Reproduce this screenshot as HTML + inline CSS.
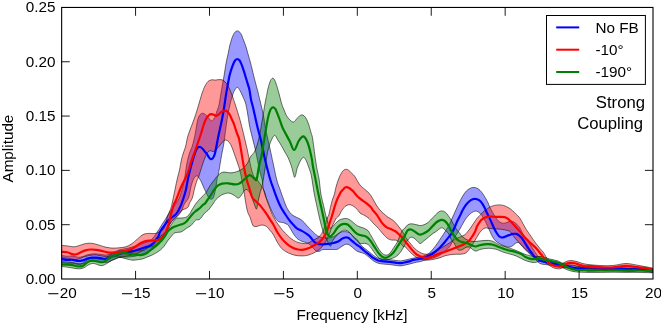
<!DOCTYPE html>
<html><head><meta charset="utf-8"><title>Spectrum</title>
<style>html,body{margin:0;padding:0;background:#fff}svg{display:block}</style>
</head><body>
<svg width="661" height="323" viewBox="0 0 661 323">
<rect width="661" height="323" fill="#fff"/>
<clipPath id="c"><rect x="61.65" y="7.45" width="591.35" height="271.55"/></clipPath>
<g clip-path="url(#c)">
<path d="M61.5 255.4C62.5 255.5 65.4 256.1 67.3 256.2C69.2 256.3 70.9 255.8 72.7 256.0C74.5 256.2 76.4 257.1 78.1 257.2C79.8 257.3 81.2 257.0 82.7 256.6C84.2 256.2 85.7 255.2 87.2 254.8C88.7 254.4 90.3 254.1 91.8 253.9C93.3 253.8 94.8 253.8 96.3 253.9C97.8 254.0 99.3 254.1 100.8 254.3C102.3 254.5 104.0 255.1 105.4 255.1C106.8 255.1 107.8 254.7 109.0 254.3C110.2 253.9 111.4 253.0 112.6 252.5C113.8 252.0 115.1 251.6 116.3 251.2C117.5 250.8 118.0 250.3 120.0 249.8C122.0 249.3 125.9 248.7 128.6 248.0C131.3 247.3 133.4 246.6 136.0 245.8C138.6 245.0 141.8 243.8 144.0 243.0C146.2 242.2 148.0 241.6 149.5 240.8C151.0 240.0 151.7 239.5 153.0 238.0C154.3 236.5 155.8 234.2 157.3 232.0C158.8 229.8 160.5 226.9 161.8 224.8C163.2 222.7 164.4 221.0 165.4 219.3C166.4 217.6 167.0 216.5 168.1 214.8C169.2 213.1 170.7 210.9 172.0 209.0C173.3 207.1 174.7 205.7 176.0 203.5C177.3 201.3 178.7 199.6 180.0 196.0C181.3 192.4 182.9 187.3 184.0 182.0C185.1 176.7 185.9 168.8 186.8 164.0C187.7 159.2 188.6 156.0 189.5 153.0C190.4 150.0 191.4 149.0 192.3 146.0C193.2 143.0 194.0 139.6 195.0 135.0C196.0 130.4 196.9 122.1 198.1 118.5C199.2 114.9 200.6 114.0 201.9 113.4C203.2 112.8 204.3 113.7 205.7 114.8C207.1 115.9 209.4 119.0 210.4 120.0C211.4 121.0 211.1 121.3 211.8 120.9C212.5 120.5 213.6 119.5 214.5 117.7C215.4 116.0 216.4 112.5 217.2 110.4C217.9 108.3 218.4 107.7 219.0 105.0C219.6 102.3 220.2 97.7 220.8 94.1C221.5 90.5 222.2 86.3 222.7 83.3C223.2 80.3 223.4 79.4 224.0 76.0C224.6 72.6 225.4 66.8 226.1 63.1C226.7 59.4 227.4 56.9 228.1 54.0C228.7 51.1 229.1 48.3 229.7 45.9C230.3 43.5 230.8 41.6 231.5 39.5C232.2 37.4 233.2 34.6 234.2 33.2C235.2 31.8 236.3 30.9 237.4 30.9C238.5 30.9 239.6 31.8 240.6 33.2C241.6 34.6 242.4 37.2 243.3 39.5C244.2 41.8 245.2 44.4 246.0 46.8C246.8 49.2 247.2 51.3 248.0 54.0C248.8 56.7 249.9 60.4 250.6 63.1C251.3 65.8 251.6 67.0 252.3 70.0C253.0 73.0 254.1 77.4 255.0 80.9C255.9 84.4 256.9 88.0 257.7 90.9C258.4 93.8 258.8 95.6 259.5 98.5C260.2 101.4 261.0 104.7 261.8 108.1C262.6 111.5 263.5 115.7 264.1 119.0C264.6 122.3 264.7 124.3 265.4 128.0C266.1 131.7 266.9 134.8 268.3 141.0C269.7 147.2 272.1 158.5 273.5 165.0C274.9 171.5 275.7 176.0 276.8 180.0C277.8 184.0 278.8 185.9 279.9 189.1C281.0 192.3 282.4 196.3 283.4 199.0C284.4 201.7 285.0 203.6 285.8 205.4C286.6 207.2 287.1 208.5 288.1 210.0C289.1 211.5 290.3 213.3 291.7 214.5C293.1 215.7 294.8 216.4 296.3 217.2C297.8 218.0 299.5 218.6 300.8 219.5C302.1 220.4 303.5 221.8 304.4 222.7C305.3 223.6 305.4 224.0 306.3 225.0C307.2 226.0 308.8 227.7 310.0 228.9C311.2 230.2 312.4 231.4 313.6 232.5C314.8 233.6 315.9 234.9 317.3 235.7C318.7 236.5 320.2 237.1 322.0 237.5C323.8 237.9 326.1 238.2 328.0 238.0C329.9 237.8 332.1 237.2 333.6 236.6C335.1 236.0 336.0 235.1 337.2 234.3C338.4 233.6 339.7 232.6 340.9 232.1C342.1 231.6 343.3 231.6 344.5 231.6C345.7 231.6 347.1 231.7 348.1 232.1C349.2 232.5 349.7 233.0 350.8 233.9C351.9 234.8 353.3 236.4 354.5 237.5C355.7 238.6 357.2 239.6 358.1 240.7C359.0 241.8 358.9 242.9 360.0 244.2C361.1 245.5 363.0 247.0 364.5 248.3C366.0 249.6 367.6 250.7 369.1 251.9C370.6 253.1 372.1 254.4 373.6 255.5C375.1 256.6 376.4 257.6 378.1 258.2C379.8 258.8 381.6 258.9 383.6 259.2C385.6 259.4 387.8 259.5 389.9 259.7C392.0 259.9 394.5 260.3 396.3 260.5C398.1 260.7 399.3 261.0 400.8 260.9C402.3 260.8 403.7 260.4 405.4 260.0C407.1 259.6 408.8 259.1 410.8 258.7C412.9 258.2 415.6 257.8 417.7 257.3C419.8 256.9 421.4 256.5 423.1 256.0C424.8 255.5 426.5 254.9 427.7 254.2C428.9 253.5 429.3 253.1 430.4 252.0C431.4 250.9 432.8 249.4 434.0 247.9C435.2 246.4 436.5 244.7 437.7 242.9C438.9 241.2 440.2 239.1 441.3 237.4C442.4 235.8 443.2 234.8 444.3 233.0C445.4 231.2 447.0 228.8 448.1 226.8C449.2 224.9 449.9 223.3 450.8 221.3C451.7 219.3 452.8 216.7 453.6 215.0C454.4 213.3 454.5 213.0 455.4 211.0C456.3 209.0 457.9 205.4 459.1 202.9C460.3 200.4 461.5 198.1 462.7 196.1C463.9 194.1 465.1 192.4 466.3 191.1C467.5 189.8 468.7 189.0 470.0 188.4C471.3 187.8 472.6 187.3 474.0 187.4C475.4 187.5 476.8 188.0 478.1 188.8C479.4 189.6 480.6 190.9 481.8 192.4C483.0 193.9 484.3 196.2 485.4 197.9C486.4 199.7 487.4 201.3 488.1 202.9C488.9 204.5 489.1 205.9 489.9 207.5C490.7 209.1 491.8 210.9 492.7 212.5C493.6 214.1 494.5 215.7 495.4 217.1C496.3 218.5 497.1 219.7 498.1 220.7C499.2 221.7 500.5 222.6 501.7 223.0C502.9 223.4 504.2 223.2 505.4 223.0C506.6 222.8 507.9 221.9 509.0 221.6C510.1 221.3 510.6 221.0 511.7 221.2C512.8 221.4 514.3 222.2 515.4 223.0C516.5 223.8 517.4 224.9 518.1 225.7C518.9 226.5 519.1 226.7 519.9 228.0C520.7 229.3 521.6 231.6 522.7 233.4C523.8 235.2 525.1 237.1 526.3 238.9C527.5 240.7 528.7 242.5 529.9 244.3C531.1 246.1 532.4 248.0 533.6 249.8C534.8 251.6 536.1 253.9 537.2 255.2C538.3 256.5 537.9 256.5 540.0 257.4C542.1 258.3 546.7 259.6 549.7 260.5C552.7 261.4 555.2 261.8 558.0 262.5C560.8 263.2 563.1 263.8 566.6 264.5C570.1 265.2 575.4 266.3 579.3 266.5C583.2 266.7 585.8 265.4 590.0 265.5C594.2 265.6 600.1 266.9 604.7 267.2C609.3 267.5 613.3 267.1 617.5 267.2C621.7 267.3 625.8 268.0 630.0 268.0C634.2 268.0 639.3 267.0 643.0 267.2C646.7 267.4 650.8 268.7 652.4 269.0L652.6 272.6C651.0 272.3 646.8 270.9 643.0 270.7C639.2 270.5 634.2 271.5 630.0 271.5C625.8 271.5 621.7 270.8 617.5 270.7C613.3 270.6 609.3 271.0 604.7 270.7C600.1 270.4 594.2 269.1 590.0 269.0C585.8 268.9 583.2 270.4 579.3 270.2C575.4 270.0 570.1 268.7 566.6 268.0C563.1 267.3 560.8 266.5 558.0 266.0C555.2 265.5 552.7 265.4 549.7 265.0C546.7 264.6 542.5 264.6 540.0 263.5C537.5 262.4 535.9 259.6 534.5 258.3C533.1 257.0 532.8 256.7 531.7 255.7C530.6 254.7 529.3 253.6 528.1 252.5C526.9 251.4 525.7 250.2 524.5 248.9C523.3 247.6 522.0 245.9 520.9 244.8C519.8 243.7 519.0 242.7 518.1 242.5C517.2 242.3 516.3 242.9 515.4 243.4C514.5 243.9 513.6 245.1 512.7 245.7C511.8 246.3 511.1 246.9 510.0 247.1C508.9 247.2 507.5 246.9 506.3 246.6C505.1 246.3 503.9 245.7 502.7 245.2C501.5 244.7 500.3 244.2 499.1 243.4C497.9 242.7 496.5 241.8 495.4 240.7C494.3 239.6 493.6 238.6 492.7 237.1C491.8 235.6 491.1 233.9 490.0 231.6C488.9 229.3 487.7 226.1 486.3 223.4C484.9 220.7 482.9 217.0 481.8 215.3C480.7 213.6 480.3 213.7 479.5 213.0C478.7 212.3 477.8 211.4 476.8 211.2C475.8 211.0 474.9 211.0 473.6 211.6C472.3 212.2 470.6 213.3 469.1 214.8C467.6 216.3 466.0 218.3 464.5 220.7C463.0 223.0 461.3 226.6 460.0 228.9C458.7 231.2 457.6 232.6 456.5 234.5C455.4 236.4 454.1 238.3 453.1 240.2C452.1 242.0 451.3 244.2 450.4 245.6C449.5 247.0 449.2 247.4 447.7 248.8C446.2 250.2 443.3 252.8 441.3 254.2C439.3 255.6 437.7 256.2 435.9 257.0C434.1 257.8 432.2 258.3 430.4 258.8C428.6 259.3 426.7 259.7 425.0 260.2C423.3 260.7 421.4 261.2 420.0 261.6C418.6 262.0 417.8 262.0 416.3 262.3C414.8 262.6 412.6 263.2 410.8 263.7C409.0 264.1 407.1 264.6 405.4 265.0C403.7 265.4 402.3 265.8 400.8 265.9C399.3 266.0 398.1 265.7 396.3 265.5C394.5 265.3 392.0 264.8 389.9 264.6C387.8 264.4 385.6 264.3 383.6 264.1C381.6 263.9 379.8 263.7 378.1 263.2C376.4 262.7 375.1 262.0 373.6 261.0C372.1 260.0 370.6 258.5 369.1 257.3C367.6 256.1 366.0 254.5 364.5 253.7C363.0 252.9 361.4 252.8 360.0 252.3C358.6 251.8 357.5 251.5 356.3 250.7C355.1 249.9 353.8 248.5 352.6 247.5C351.4 246.5 350.2 245.3 349.0 244.8C347.8 244.3 346.8 244.0 345.4 244.4C344.0 244.8 342.2 246.3 340.8 247.1C339.4 247.9 339.0 248.9 337.2 249.3C335.4 249.7 332.3 249.4 329.9 249.5C327.5 249.6 324.4 249.3 322.7 249.6C321.0 249.9 320.6 251.1 319.5 251.3C318.4 251.5 317.3 251.4 316.3 251.0C315.3 250.6 314.7 249.7 313.6 248.6C312.5 247.5 311.1 245.5 309.9 244.5C308.7 243.5 307.6 243.2 306.3 242.7C305.0 242.2 303.3 242.0 301.8 241.3C300.3 240.6 298.6 239.8 297.2 238.6C295.8 237.4 294.7 235.6 293.6 234.1C292.6 232.6 291.8 231.0 290.9 229.5C290.0 228.0 288.9 225.9 288.1 225.0C287.3 224.1 287.1 224.4 286.3 224.0C285.6 223.6 284.8 223.1 283.6 222.7C282.4 222.3 280.4 222.6 279.0 221.8C277.6 221.0 276.8 220.2 275.4 218.1C274.0 216.0 272.3 212.1 270.9 209.1C269.5 206.1 268.1 202.1 267.2 200.0C266.3 197.9 266.1 198.4 265.4 196.3C264.7 194.2 263.6 190.0 263.1 187.3C262.6 184.6 262.8 182.9 262.2 180.0C261.6 177.1 260.6 175.0 259.5 170.0C258.4 165.0 257.0 157.0 255.4 150.0C253.8 143.0 251.2 133.5 250.0 128.0C248.8 122.5 248.9 121.0 248.2 117.1C247.5 113.2 246.8 107.9 245.9 104.4C245.0 100.9 243.6 98.3 242.6 96.0C241.6 93.7 240.8 92.0 239.9 90.5C239.0 89.0 238.1 87.3 237.2 87.3C236.3 87.3 235.3 89.2 234.5 90.5C233.7 91.8 233.4 92.7 232.7 95.1C231.9 97.5 230.8 100.8 229.9 105.0C229.0 109.2 228.0 113.7 227.0 120.0C226.0 126.3 224.8 137.1 223.9 143.0C223.0 148.9 222.5 150.2 221.6 155.2C220.7 160.2 219.3 169.2 218.6 173.0C217.9 176.8 217.7 175.7 217.2 178.2C216.7 180.7 216.4 185.0 215.8 188.1C215.2 191.2 214.3 195.1 213.6 197.0C212.8 198.9 212.1 199.2 211.3 199.3C210.5 199.4 209.5 198.6 208.6 197.3C207.7 196.1 206.6 193.3 205.8 191.8C205.0 190.3 204.8 189.8 204.0 188.1C203.2 186.4 202.2 183.6 201.3 181.8C200.4 180.0 199.2 178.3 198.6 177.3C198.0 176.3 198.0 176.2 197.6 176.0C197.2 175.8 196.9 175.5 196.3 175.9C195.7 176.3 194.8 176.6 194.0 178.2C193.2 179.8 192.2 182.2 191.3 185.4C190.4 188.6 189.8 194.4 188.6 197.5C187.4 200.6 185.3 202.2 184.3 204.0C183.3 205.8 183.3 207.1 182.7 208.4C182.1 209.8 181.8 210.7 180.9 212.1C180.0 213.5 178.4 215.3 177.2 216.6C176.0 217.9 174.8 218.6 173.6 219.8C172.4 221.0 171.3 222.1 170.0 224.0C168.7 225.9 167.3 228.8 166.0 231.0C164.7 233.2 163.3 235.4 162.0 237.5C160.7 239.6 159.2 241.8 158.0 243.5C156.8 245.2 155.8 246.8 154.5 248.0C153.2 249.2 151.8 250.1 150.0 251.0C148.2 251.9 146.3 252.7 144.0 253.5C141.7 254.3 138.6 255.4 136.0 256.0C133.4 256.6 131.3 256.8 128.6 257.0C125.9 257.2 122.0 256.9 120.0 257.2C118.0 257.5 117.5 258.2 116.3 258.6C115.1 259.1 113.8 259.4 112.6 259.9C111.4 260.4 110.2 261.3 109.0 261.7C107.8 262.1 106.8 262.5 105.4 262.5C104.0 262.5 102.3 261.9 100.8 261.7C99.3 261.5 97.8 261.4 96.3 261.3C94.8 261.2 93.3 261.2 91.8 261.3C90.3 261.4 88.7 261.8 87.2 262.2C85.7 262.6 84.2 263.6 82.7 264.0C81.2 264.4 79.8 264.7 78.1 264.6C76.4 264.5 74.5 263.6 72.7 263.4C70.9 263.2 69.2 263.7 67.3 263.6C65.4 263.5 62.5 262.9 61.5 262.8Z" fill="#0000ff" fill-opacity="0.4" stroke="#000" stroke-opacity="0.55" stroke-width="1" stroke-linejoin="round"/>
<path d="M61.5 245.4C62.5 245.5 65.3 245.7 67.3 245.9C69.3 246.1 71.8 246.8 73.6 246.8C75.4 246.8 76.4 246.4 78.1 245.9C79.8 245.4 81.8 244.6 83.6 244.1C85.4 243.6 87.2 243.2 89.0 243.2C90.8 243.1 92.7 243.4 94.5 243.8C96.3 244.2 98.1 244.9 99.9 245.4C101.7 245.9 103.6 246.7 105.4 247.1C107.2 247.5 109.0 247.8 110.8 248.0C112.6 248.2 114.8 248.1 116.3 248.0C117.8 247.9 118.4 247.9 120.0 247.7C121.6 247.5 124.0 247.4 125.9 246.8C127.8 246.2 129.6 245.2 131.3 244.1C133.0 243.0 134.4 241.7 135.9 240.4C137.4 239.1 139.1 237.5 140.4 236.4C141.8 235.3 142.6 234.6 144.0 234.1C145.4 233.6 147.1 233.5 148.6 233.4C150.1 233.3 151.8 233.6 153.1 233.6C154.4 233.6 155.6 233.5 156.7 233.2C157.8 232.8 158.7 232.2 159.8 231.5C160.9 230.8 162.5 230.6 163.5 229.0C164.5 227.4 165.2 224.4 166.0 222.0C166.8 219.6 167.4 216.9 168.1 214.8C168.8 212.7 169.7 211.4 170.4 209.4C171.1 207.4 171.1 207.8 172.2 203.0C173.3 198.2 175.6 186.4 176.8 180.9C178.0 175.4 178.8 173.3 179.5 170.0C180.2 166.7 180.7 163.5 181.2 161.0C181.7 158.5 181.9 157.5 182.7 155.0C183.4 152.5 184.8 149.3 185.7 146.0C186.6 142.7 186.7 139.7 188.2 135.0C189.7 130.3 192.8 123.0 194.5 118.0C196.2 113.0 197.4 109.0 198.6 105.0C199.8 101.0 200.7 97.3 201.8 94.1C202.9 90.9 203.9 88.1 205.0 86.0C206.1 83.9 207.0 82.4 208.1 81.4C209.2 80.4 210.6 80.0 211.8 79.8C213.0 79.6 214.2 80.1 215.4 80.1C216.6 80.1 217.8 79.6 219.0 79.6C220.2 79.6 221.5 79.5 222.7 80.1C223.9 80.7 225.2 82.0 226.3 83.3C227.4 84.6 228.2 86.1 229.0 87.8C229.8 89.5 230.5 91.2 231.3 93.2C232.1 95.2 232.9 97.6 233.6 99.6C234.3 101.6 234.3 101.4 235.4 105.0C236.5 108.6 238.5 114.2 240.3 121.0C242.1 127.8 244.3 136.9 246.3 145.5C248.3 154.1 250.6 167.1 252.4 172.8C254.2 178.6 255.7 177.7 257.3 180.0C258.9 182.3 260.5 184.2 261.8 186.4C263.1 188.6 264.2 190.7 265.0 193.0C265.8 195.3 266.0 197.4 266.8 200.0C267.6 202.6 269.0 205.9 270.0 208.5C271.0 211.1 271.5 213.0 272.7 215.4C273.9 217.8 276.2 221.5 277.2 223.1C278.2 224.7 277.7 223.8 278.6 225.0C279.5 226.2 281.1 228.6 282.7 230.4C284.3 232.2 286.3 234.2 288.1 235.9C289.9 237.6 291.8 239.3 293.6 240.4C295.4 241.5 297.2 242.2 299.0 242.7C300.8 243.2 303.0 243.5 304.5 243.6C306.0 243.7 306.8 243.6 308.1 243.1C309.4 242.6 310.8 241.4 312.5 240.5C314.2 239.6 316.6 238.7 318.2 237.5C319.8 236.3 320.8 235.1 321.8 233.4C322.9 231.7 323.6 229.7 324.5 227.1C325.4 224.5 326.5 220.0 327.2 218.0C327.9 216.0 328.3 216.6 328.8 214.9C329.3 213.2 329.8 210.0 330.4 207.6C331.0 205.2 331.5 202.7 332.2 200.4C332.9 198.1 334.0 195.8 334.5 194.0C335.0 192.2 334.9 191.3 335.4 189.5C335.8 187.7 336.5 185.2 337.2 183.1C337.9 181.0 338.7 178.7 339.5 176.8C340.3 174.9 341.4 173.1 342.2 171.9C343.0 170.7 343.6 170.2 344.3 169.8C345.0 169.4 345.6 169.3 346.3 169.3C347.0 169.3 347.6 169.6 348.3 170.0C349.0 170.4 349.6 171.2 350.4 171.9C351.2 172.7 352.3 173.7 353.1 174.5C353.9 175.3 353.9 175.1 355.0 176.8C356.1 178.6 358.4 182.9 360.0 185.0C361.6 187.1 363.0 187.7 364.5 189.1C366.0 190.5 367.7 191.6 369.1 193.2C370.5 194.8 371.5 196.6 372.7 198.6C373.9 200.6 375.1 203.1 376.3 205.0C377.5 206.9 378.8 208.6 380.0 210.0C381.2 211.4 382.2 212.4 383.6 213.6C385.0 214.8 386.6 216.2 388.1 217.3C389.6 218.4 391.3 218.9 392.7 220.0C394.1 221.1 395.1 222.2 396.3 223.6C397.5 224.9 398.8 226.7 399.9 228.1C401.0 229.5 401.8 230.5 402.6 231.8C403.5 233.1 404.1 234.6 404.9 236.0C405.7 237.4 406.6 238.8 407.7 240.2C408.8 241.6 410.2 243.3 411.4 244.7C412.6 246.1 413.8 247.7 415.0 248.8C416.2 249.9 417.2 250.7 418.6 251.5C420.0 252.3 421.6 253.4 423.1 253.8C424.6 254.2 426.2 254.4 427.7 254.2C429.2 254.0 429.4 253.9 432.0 252.7C434.6 251.5 439.3 249.1 443.2 246.8C447.1 244.6 451.8 241.2 455.3 239.2C458.8 237.2 462.2 236.3 464.3 235.0C466.4 233.7 466.8 232.8 468.0 231.3C469.2 229.8 470.6 227.9 471.8 226.1C473.0 224.3 474.3 222.2 475.4 220.7C476.4 219.2 477.2 218.1 478.1 217.1C479.0 216.1 479.8 215.5 480.9 214.4C482.0 213.3 483.4 211.6 484.5 210.7C485.6 209.8 486.3 209.5 487.2 208.9C488.1 208.3 488.7 207.6 489.9 207.0C491.1 206.4 493.0 205.8 494.5 205.4C496.0 205.1 497.5 204.9 499.0 204.9C500.5 204.9 502.1 205.1 503.5 205.4C504.9 205.8 506.3 206.6 507.2 207.0C508.1 207.4 508.1 207.4 509.0 208.0C509.9 208.6 511.4 209.6 512.6 210.7C513.8 211.8 515.1 213.1 516.3 214.4C517.5 215.7 518.5 216.1 520.0 218.4C521.5 220.7 523.9 225.5 525.4 228.0C526.9 230.5 527.8 231.6 529.0 233.4C530.2 235.2 531.5 237.2 532.7 238.9C533.9 240.7 535.1 242.3 536.3 243.9C537.5 245.5 538.7 247.0 539.9 248.4C541.1 249.8 542.5 251.2 543.5 252.5C544.5 253.8 544.9 255.2 545.8 256.5C546.6 257.8 547.5 259.4 548.6 260.4C549.7 261.4 551.0 262.1 552.2 262.7C553.4 263.3 554.7 263.7 555.9 264.0C557.1 264.3 558.3 264.4 559.5 264.3C560.7 264.2 561.9 263.6 563.1 263.1C564.3 262.6 565.5 261.7 566.7 261.3C567.9 260.9 569.2 260.7 570.4 260.6C571.6 260.5 572.8 260.7 574.0 260.9C575.2 261.1 576.4 261.4 577.6 261.8C578.8 262.2 580.1 262.7 581.3 263.1C582.5 263.5 583.9 263.8 585.0 264.0C586.1 264.2 585.5 264.2 588.0 264.5C590.5 264.8 595.8 265.3 600.0 265.5C604.2 265.7 608.7 265.8 613.0 265.5C617.3 265.2 621.7 263.5 626.0 263.5C630.3 263.5 634.6 264.8 639.0 265.5C643.4 266.2 650.2 267.6 652.4 268.0L652.4 271.0C650.2 270.8 643.4 269.9 639.0 269.5C634.6 269.1 630.3 268.5 626.0 268.5C621.7 268.5 617.3 269.3 613.0 269.5C608.7 269.7 604.2 269.6 600.0 269.5C595.8 269.4 590.5 269.2 588.0 269.0C585.5 268.8 586.1 268.7 585.0 268.5C583.9 268.3 582.5 268.0 581.3 267.6C580.1 267.2 578.8 266.7 577.6 266.3C576.4 265.9 575.2 265.6 574.0 265.4C572.8 265.2 571.6 265.0 570.4 265.1C569.2 265.2 567.9 265.4 566.7 265.8C565.5 266.2 564.3 267.1 563.1 267.6C561.9 268.1 560.7 268.7 559.5 268.8C558.3 268.9 557.1 268.8 555.9 268.5C554.7 268.2 553.4 267.8 552.2 267.2C551.0 266.6 549.8 265.7 548.6 264.9C547.4 264.1 546.2 263.3 545.0 262.6C543.8 261.9 542.8 261.3 541.5 260.6C540.2 259.9 538.8 259.4 537.3 258.5C535.8 257.6 534.2 256.3 532.7 255.2C531.2 254.0 529.5 252.8 528.1 251.6C526.7 250.4 525.7 249.2 524.5 248.0C523.3 246.8 522.1 245.5 520.9 244.3C519.7 243.1 518.4 242.0 517.2 240.7C516.0 239.3 514.8 237.7 513.6 236.2C512.4 234.7 511.1 232.6 510.0 231.6C508.9 230.6 508.6 230.8 507.2 230.4C505.8 230.0 503.5 229.6 501.7 229.3C499.9 229.1 497.9 229.0 496.3 228.9C494.7 228.8 493.4 228.7 492.0 228.6C490.6 228.5 489.2 228.3 488.1 228.2C487.0 228.1 486.3 227.8 485.4 228.0C484.5 228.2 483.7 228.5 482.7 229.3C481.7 230.1 480.5 231.6 479.5 232.9C478.5 234.2 477.7 235.9 476.8 237.4C475.9 238.9 474.9 240.5 474.0 242.0C473.1 243.5 472.2 245.2 471.3 246.5C470.4 247.8 469.5 249.0 468.6 250.1C467.7 251.2 467.1 252.2 465.9 252.9C464.7 253.6 463.0 254.0 461.3 254.2C459.6 254.4 457.7 254.1 455.9 254.2C454.1 254.3 452.2 254.4 450.4 254.7C448.6 255.0 446.8 255.3 445.0 255.8C443.2 256.3 441.3 257.3 439.5 257.9C437.7 258.5 435.8 258.8 434.0 259.2C432.2 259.6 430.4 260.0 428.6 260.1C426.8 260.2 424.6 259.9 423.1 259.7C421.6 259.5 420.7 259.2 419.5 258.8C418.3 258.4 417.1 257.8 415.9 257.0C414.7 256.2 413.5 255.3 412.3 254.2C411.1 253.1 409.8 251.8 408.6 250.5C407.4 249.2 405.8 247.1 405.0 246.5C404.2 245.9 404.3 247.4 403.6 246.9C402.9 246.4 401.7 244.6 400.8 243.7C399.9 242.8 399.0 242.0 398.1 241.4C397.2 240.8 396.4 240.3 395.4 240.1C394.3 239.9 393.0 240.3 391.8 240.1C390.6 239.9 389.2 239.3 388.1 238.7C387.0 238.1 386.3 237.4 385.4 236.5C384.5 235.6 383.9 234.9 382.7 233.5C381.5 232.1 379.6 229.8 378.1 228.1C376.6 226.4 375.1 225.2 373.6 223.6C372.1 222.0 370.6 220.0 369.1 218.6C367.6 217.2 366.0 216.3 364.5 215.4C363.0 214.5 361.2 214.0 360.0 213.0C358.8 212.0 358.4 210.6 357.3 209.5C356.2 208.4 354.8 207.1 353.6 206.3C352.4 205.5 350.9 204.9 350.0 204.7C349.1 204.5 348.7 204.8 348.0 205.0C347.3 205.2 346.7 205.4 346.0 205.8C345.3 206.2 344.8 206.7 344.0 207.6C343.2 208.5 342.1 209.8 341.3 211.2C340.5 212.6 339.8 214.7 339.0 215.8C338.2 216.9 337.1 216.9 336.3 218.0C335.5 219.1 334.8 221.0 334.0 222.5C333.2 224.0 332.4 225.6 331.8 227.1C331.2 228.6 330.9 230.1 330.4 231.6C329.9 233.1 329.3 234.6 328.6 236.1C327.9 237.6 327.5 238.8 326.3 240.7C325.1 242.5 323.5 245.3 321.7 247.2C319.9 249.1 318.2 250.5 315.7 251.9C313.2 253.3 309.6 254.9 306.6 255.5C303.6 256.1 300.1 255.9 297.5 255.7C294.9 255.4 292.8 254.7 290.9 254.0C289.0 253.3 287.8 252.7 286.3 251.8C284.8 250.9 283.3 250.2 281.8 248.6C280.3 247.0 278.7 244.5 277.3 242.2C275.9 239.9 274.8 237.0 273.6 235.0C272.4 233.0 271.2 231.8 270.0 230.4C268.8 229.0 267.7 227.2 266.3 226.3C264.9 225.4 263.3 225.0 261.8 225.0C260.3 225.0 258.4 226.1 257.3 226.3C256.2 226.6 255.8 226.7 255.0 226.5C254.2 226.3 253.5 226.6 252.7 225.0C251.9 223.4 250.9 219.7 250.0 217.2C249.1 214.7 248.2 214.6 247.1 209.9C246.0 205.2 244.7 195.6 243.5 189.0C242.3 182.4 241.2 175.7 239.8 170.3C238.4 164.9 236.8 161.0 235.3 156.7C233.8 152.4 232.2 147.4 230.7 144.6C229.2 141.8 227.5 140.4 226.1 140.0C224.7 139.6 223.7 141.2 222.4 142.3C221.2 143.4 220.0 145.3 218.6 146.8C217.2 148.3 215.5 150.8 214.0 151.4C212.5 152.1 211.1 150.2 209.8 150.7C208.5 151.2 207.6 152.2 206.4 154.5C205.2 156.8 203.5 161.7 202.6 164.3C201.7 166.9 201.5 167.9 200.8 170.0C200.1 172.1 199.3 175.0 198.6 176.8C197.9 178.6 197.5 179.0 196.8 180.9C196.2 182.8 195.4 185.2 194.7 188.1C193.9 190.9 193.2 195.5 192.3 198.0C191.4 200.5 190.1 201.6 189.5 203.0C188.9 204.4 189.1 205.3 188.6 206.2C188.1 207.1 187.3 207.8 186.3 208.4C185.3 209.0 183.6 209.3 182.7 209.8C181.8 210.3 181.8 210.2 180.9 211.2C180.0 212.2 178.3 214.5 177.2 215.7C176.1 216.9 175.5 217.3 174.5 218.4C173.5 219.5 172.1 220.3 171.0 222.0C169.9 223.7 169.0 226.2 168.0 228.5C167.0 230.8 166.8 233.2 165.0 236.0C163.2 238.8 160.1 243.0 157.0 245.0C153.9 247.0 150.0 246.5 146.5 248.0C143.0 249.5 140.2 252.5 136.0 254.0C131.8 255.5 123.7 256.6 121.0 257.0C118.3 257.4 121.4 256.2 120.0 256.2C118.6 256.2 114.7 256.9 112.6 257.0C110.5 257.1 109.0 257.1 107.2 256.9C105.4 256.7 103.5 256.3 101.7 256.0C99.9 255.7 98.1 255.1 96.3 255.0C94.5 254.9 93.0 255.0 90.9 255.3C88.8 255.6 85.7 256.3 83.6 257.0C81.5 257.7 79.8 258.8 78.1 259.3C76.4 259.8 75.4 260.2 73.6 260.0C71.8 259.8 69.3 258.7 67.3 258.3C65.3 257.9 62.5 257.7 61.5 257.6Z" fill="#ff0000" fill-opacity="0.4" stroke="#000" stroke-opacity="0.55" stroke-width="1" stroke-linejoin="round"/>
<path d="M61.5 261.7C62.5 261.8 65.4 262.0 67.3 262.1C69.2 262.2 70.9 262.3 72.7 262.6C74.5 262.9 76.4 263.6 78.1 263.7C79.8 263.8 81.3 263.8 82.7 263.3C84.1 262.8 85.1 261.3 86.3 260.5C87.5 259.7 88.7 258.8 89.9 258.4C91.1 258.0 92.2 258.0 93.6 258.1C95.0 258.2 96.6 258.8 98.1 259.0C99.6 259.2 101.2 259.8 102.6 259.6C104.0 259.4 105.1 258.6 106.3 257.8C107.5 257.1 108.7 255.8 109.9 255.1C111.1 254.3 112.3 253.8 113.5 253.3C114.7 252.8 116.1 252.3 117.2 251.9C118.3 251.5 118.1 251.2 120.0 251.0C121.9 250.8 125.9 250.7 128.6 250.6C131.2 250.5 133.6 250.6 135.9 250.6C138.2 250.6 140.5 251.0 142.2 250.8C143.9 250.6 144.7 250.1 145.9 249.3C147.1 248.6 148.3 247.3 149.5 246.3C150.7 245.3 151.9 244.3 153.1 243.3C154.3 242.3 155.5 241.5 156.7 240.3C157.9 239.1 159.2 237.4 160.4 236.3C161.6 235.2 162.7 234.7 164.0 233.5C165.3 232.3 167.1 230.5 168.1 229.3C169.1 228.2 169.2 227.7 170.0 226.6C170.8 225.5 171.6 223.9 172.7 222.5C173.8 221.1 174.9 219.2 176.3 218.4C177.7 217.7 179.4 218.2 180.9 218.0C182.4 217.8 184.1 218.0 185.4 217.5C186.8 217.0 187.9 216.0 189.0 214.8C190.1 213.6 190.8 211.8 191.7 210.3C192.6 208.8 193.7 206.9 194.5 205.7C195.3 204.5 195.2 204.3 196.3 203.0C197.4 201.7 199.5 199.3 201.0 197.7C202.5 196.1 204.0 195.2 205.5 193.2C207.0 191.2 208.6 187.9 210.1 185.6C211.6 183.3 213.3 181.2 214.6 179.6C215.9 178.0 216.3 177.0 217.7 175.8C219.1 174.6 220.4 172.7 222.8 172.2C225.2 171.7 229.0 173.2 232.0 172.8C235.0 172.4 238.5 171.3 241.0 169.8C243.5 168.3 245.4 166.0 247.1 163.7C248.8 161.4 249.7 158.0 250.9 156.1C252.1 154.2 253.1 154.2 254.1 152.5C255.1 150.8 256.0 148.7 256.8 146.1C257.7 143.5 258.5 140.0 259.2 137.0C259.9 134.0 260.5 130.4 260.9 128.0C261.3 125.6 261.4 124.7 261.8 122.6C262.2 120.5 262.7 118.0 263.1 115.3C263.6 112.6 264.0 109.0 264.5 106.3C265.0 103.6 265.5 101.0 265.9 99.0C266.3 97.0 266.4 96.3 266.8 94.5C267.2 92.7 267.6 90.2 268.1 88.1C268.6 86.0 269.5 83.3 270.0 81.8C270.5 80.3 270.9 79.8 271.3 79.2C271.8 78.6 272.2 78.2 272.7 78.2C273.2 78.2 273.7 78.6 274.1 79.2C274.6 79.8 274.9 80.5 275.4 81.8C275.9 83.1 276.6 85.2 277.2 87.2C277.8 89.2 278.5 91.6 279.0 93.6C279.5 95.6 279.9 97.0 280.4 99.0C280.9 101.0 281.6 103.6 282.2 105.4C282.8 107.2 283.4 108.3 284.1 110.0C284.8 111.7 285.4 113.7 286.4 115.4C287.3 117.1 288.8 118.9 290.0 120.0C291.2 121.1 292.4 122.3 293.6 122.0C294.8 121.7 296.1 119.3 297.2 118.2C298.3 117.1 299.5 115.9 300.4 115.4C301.3 114.9 301.9 114.7 302.7 115.0C303.5 115.3 304.6 116.2 305.4 117.3C306.2 118.4 307.0 120.1 307.7 121.8C308.4 123.5 308.9 125.2 309.5 127.2C310.1 129.2 310.8 131.6 311.3 133.6C311.8 135.6 311.9 133.8 312.7 139.0C313.5 144.2 315.2 158.4 316.3 165.0C317.4 171.6 318.2 173.8 319.0 178.6C319.8 183.4 320.1 189.5 320.9 194.0C321.7 198.5 322.7 201.9 323.6 205.8C324.5 209.7 325.8 215.6 326.3 217.6C326.8 219.6 326.5 217.0 326.8 218.0C327.1 219.0 327.5 221.7 328.1 223.4C328.7 225.1 329.6 227.8 330.4 228.3C331.2 228.8 331.7 227.6 332.7 226.6C333.7 225.6 335.1 223.6 336.3 222.5C337.5 221.4 338.5 220.5 339.9 219.8C341.3 219.1 343.1 218.7 344.5 218.5C345.9 218.3 346.9 218.5 348.1 218.9C349.3 219.3 350.5 220.3 351.7 221.2C352.9 222.1 354.2 223.5 355.4 224.4C356.6 225.3 357.6 226.0 359.0 226.6C360.4 227.2 362.0 227.3 363.5 228.0C365.0 228.7 367.0 229.7 368.1 230.7C369.2 231.7 369.4 233.0 370.0 234.0C370.6 235.0 370.9 235.3 371.8 236.9C372.7 238.5 374.2 241.2 375.4 243.3C376.6 245.4 377.9 247.9 379.1 249.6C380.3 251.3 381.5 252.8 382.7 253.7C383.9 254.6 385.1 255.2 386.3 255.1C387.5 255.0 388.7 254.4 389.9 253.2C391.1 252.0 392.4 249.6 393.6 247.8C394.8 246.0 396.1 244.5 397.2 242.4C398.3 240.3 399.1 237.6 400.0 235.5C400.9 233.4 401.8 231.2 402.6 230.0C403.5 228.8 404.2 228.9 405.0 228.0C405.8 227.1 406.6 225.5 407.7 224.8C408.8 224.1 410.0 223.8 411.4 223.8C412.8 223.8 414.4 224.3 415.9 224.6C417.4 224.9 418.9 225.6 420.4 225.6C421.9 225.6 423.6 224.9 425.0 224.3C426.4 223.7 427.4 223.0 428.6 222.0C429.8 221.0 431.2 219.3 432.2 218.3C433.2 217.3 433.4 217.0 434.5 215.9C435.6 214.8 437.7 212.6 439.0 211.8C440.3 211.0 441.1 210.8 442.2 210.9C443.3 211.0 444.4 211.6 445.4 212.3C446.4 213.1 447.2 214.2 448.1 215.4C449.0 216.6 449.9 218.0 450.8 219.5C451.7 221.0 452.5 222.7 453.6 224.5C454.7 226.3 456.2 229.0 457.2 230.4C458.2 231.8 458.6 231.8 459.4 232.8C460.2 233.8 461.1 235.4 462.2 236.5C463.3 237.6 464.6 238.4 465.9 239.2C467.2 239.9 468.6 240.6 470.0 241.0C471.4 241.4 472.6 241.5 474.0 241.5C475.4 241.5 477.1 241.2 478.6 241.1C480.1 240.9 481.4 240.7 483.1 240.6C484.8 240.5 487.1 240.3 488.6 240.4C490.1 240.5 491.0 240.7 492.2 241.1C493.4 241.5 494.6 242.2 495.8 242.9C497.0 243.6 497.9 244.3 499.5 245.0C501.1 245.7 502.6 245.9 505.4 246.8C508.1 247.7 512.7 249.1 516.0 250.4C519.3 251.7 522.1 253.4 525.1 254.4C528.1 255.4 531.5 256.1 534.2 256.5C536.9 256.9 538.6 256.1 541.2 256.5C543.8 256.9 546.9 258.2 549.7 259.0C552.5 259.8 555.3 259.9 558.1 261.0C560.9 262.1 563.8 264.2 566.6 265.4C569.4 266.6 571.6 267.4 575.1 268.0C578.6 268.6 583.6 268.8 587.8 268.8C592.0 268.9 596.3 268.4 600.5 268.3C604.7 268.2 609.0 268.0 613.2 268.0C617.4 268.0 621.7 268.2 625.9 268.3C630.1 268.4 634.2 268.2 638.6 268.3C643.0 268.4 650.1 268.7 652.4 268.8L652.4 272.8C650.1 272.7 643.0 272.5 638.6 272.4C634.2 272.3 630.1 272.4 625.9 272.4C621.7 272.4 617.4 272.2 613.2 272.2C609.0 272.2 604.7 272.4 600.5 272.4C596.3 272.4 592.0 272.5 587.8 272.4C583.6 272.3 578.6 272.3 575.1 271.8C571.6 271.3 569.4 270.6 566.6 269.5C563.8 268.4 560.9 266.6 558.1 265.5C555.3 264.4 552.5 263.8 549.7 263.0C546.9 262.2 543.8 261.1 541.2 261.0C538.6 260.9 536.9 262.6 534.2 262.5C531.5 262.4 528.1 261.5 525.1 260.4C522.1 259.3 519.3 257.2 516.0 255.9C512.7 254.6 508.0 253.6 505.4 252.8C502.8 252.0 501.7 251.6 500.4 251.1C499.1 250.6 498.7 250.1 497.6 249.7C496.5 249.3 495.5 249.0 494.0 248.8C492.5 248.6 490.4 248.3 488.6 248.3C486.8 248.3 484.6 248.6 483.1 248.8C481.6 249.0 480.7 249.3 479.5 249.7C478.3 250.1 477.1 251.2 475.9 251.1C474.7 251.0 473.3 249.9 472.2 249.2C471.1 248.5 470.6 247.3 469.5 247.0C468.4 246.7 467.1 247.0 465.9 247.4C464.7 247.8 463.4 249.2 462.2 249.7C461.0 250.1 459.5 250.3 458.6 250.1C457.7 249.9 457.6 249.5 456.8 248.3C456.1 247.1 455.0 244.4 454.1 243.0C453.2 241.6 452.2 241.4 451.3 239.8C450.4 238.2 449.4 235.0 448.5 233.5C447.6 232.0 446.7 231.7 445.8 230.8C444.9 229.9 444.0 228.6 443.1 228.2C442.2 227.8 441.4 227.7 440.4 228.2C439.3 228.7 438.0 230.1 436.8 231.0C435.6 231.9 434.5 232.4 433.1 233.4C431.7 234.4 430.1 235.8 428.6 237.0C427.1 238.2 425.5 239.6 424.1 240.7C422.7 241.8 421.3 243.3 420.4 243.6C419.5 243.9 419.5 243.2 418.6 242.4C417.7 241.6 416.1 239.7 414.9 238.8C413.7 237.9 412.5 237.0 411.3 237.2C410.1 237.4 408.8 238.8 407.7 240.1C406.6 241.3 406.0 242.9 404.9 244.7C403.8 246.5 402.4 249.3 401.3 251.0C400.2 252.7 399.1 253.9 398.0 255.0C396.9 256.1 396.0 256.6 394.6 257.3C393.2 258.0 391.3 258.7 389.9 259.1C388.5 259.6 387.5 259.9 386.3 260.0C385.1 260.1 383.9 260.1 382.7 259.8C381.5 259.5 380.3 259.1 379.1 258.2C377.9 257.2 376.6 255.7 375.4 254.1C374.2 252.5 373.0 250.3 371.8 248.7C370.6 247.1 369.4 245.5 368.2 244.6C367.0 243.7 365.9 243.5 364.5 243.3C363.1 243.2 361.1 244.0 360.0 243.7C358.9 243.4 359.0 242.5 358.1 241.6C357.2 240.7 355.7 239.7 354.5 238.4C353.3 237.1 352.0 235.2 350.8 233.9C349.6 232.6 348.4 231.3 347.2 230.7C346.0 230.1 344.8 230.0 343.6 230.3C342.4 230.6 341.1 231.5 339.9 232.5C338.7 233.5 337.5 234.7 336.3 236.1C335.1 237.5 333.7 239.0 332.7 240.7C331.7 242.4 331.2 246.5 330.2 246.3C329.2 246.2 327.8 241.8 326.8 239.8C325.8 237.8 324.9 236.4 324.1 234.3C323.3 232.2 322.6 229.8 321.8 227.1C321.0 224.4 320.3 221.2 319.5 218.0C318.7 214.8 318.1 211.6 317.2 207.6C316.4 203.6 315.3 199.4 314.3 194.0C313.3 188.6 312.2 179.7 311.3 175.4C310.4 171.1 309.8 170.5 309.0 168.1C308.2 165.7 307.2 162.7 306.3 160.9C305.4 159.1 304.5 157.5 303.6 157.3C302.7 157.2 302.0 158.2 300.9 160.0C299.8 161.8 298.0 165.8 297.2 168.2C296.4 170.6 296.2 173.0 295.8 174.5C295.4 176.0 295.0 177.3 294.6 177.3C294.2 177.3 294.1 176.3 293.6 174.5C293.1 172.7 292.4 169.3 291.5 166.5C290.6 163.7 289.2 160.1 288.1 157.7C287.0 155.3 286.0 154.0 284.9 152.0C283.8 150.0 282.5 147.5 281.3 145.5C280.1 143.5 278.9 141.4 277.7 139.8C276.5 138.2 275.6 134.2 274.0 135.7C272.4 137.2 269.8 143.4 268.4 148.6C266.9 153.8 266.3 160.7 265.3 166.8C264.3 172.9 263.2 180.6 262.3 185.0C261.4 189.4 260.7 190.3 260.0 193.2C259.3 196.1 258.5 199.7 257.9 202.3C257.3 205.0 257.1 209.2 256.4 209.1C255.7 209.0 254.6 204.7 253.5 202.0C252.4 199.3 251.2 195.1 250.0 193.0C248.8 190.9 247.6 189.7 246.5 189.5C245.4 189.3 244.4 190.7 243.5 191.7C242.6 192.7 242.1 194.4 241.2 195.5C240.3 196.6 239.3 198.1 238.2 198.1C237.1 198.1 235.8 196.3 234.4 195.5C233.0 194.7 231.3 193.5 229.8 193.2C228.3 192.9 226.8 193.1 225.3 193.5C223.8 193.9 222.2 194.5 220.7 195.5C219.2 196.5 217.4 197.9 216.1 199.3C214.8 200.7 214.1 202.4 213.1 203.8C212.1 205.2 210.8 206.9 210.0 208.0C209.2 209.1 209.0 209.4 208.1 210.3C207.2 211.2 205.5 212.3 204.4 213.4C203.3 214.5 202.6 216.0 201.7 217.1C200.8 218.2 199.9 219.4 199.0 219.8C198.1 220.2 197.2 219.4 196.3 219.8C195.4 220.2 194.5 221.5 193.6 222.5C192.7 223.5 192.0 224.7 190.8 225.7C189.6 226.7 188.0 227.3 186.3 228.4C184.7 229.5 182.8 231.3 180.9 232.0C179.0 232.7 176.6 232.0 175.0 232.7C173.4 233.4 172.5 235.0 171.3 236.4C170.1 237.8 168.8 239.2 167.6 240.9C166.4 242.6 165.2 244.8 164.0 246.3C162.8 247.8 161.8 248.9 160.4 250.0C159.0 251.1 157.3 252.2 155.8 253.1C154.3 254.0 152.8 254.7 151.3 255.4C149.8 256.1 148.3 256.6 146.8 257.2C145.3 257.8 143.9 258.5 142.5 258.9C141.1 259.3 140.2 259.4 138.6 259.6C137.0 259.8 134.8 260.2 133.0 260.2C131.2 260.1 130.2 259.8 128.0 259.3C125.8 258.8 122.3 257.4 120.0 257.4C117.7 257.4 116.1 258.6 114.4 259.3C112.7 260.0 111.2 260.8 109.9 261.5C108.6 262.2 107.5 263.1 106.3 263.8C105.1 264.5 103.8 265.4 102.6 265.6C101.4 265.8 100.3 265.5 99.0 265.2C97.7 264.9 95.8 263.8 94.5 263.6C93.2 263.4 92.1 263.5 90.9 263.8C89.7 264.1 88.4 264.9 87.2 265.6C86.0 266.3 85.1 267.4 83.6 267.9C82.1 268.4 80.5 268.9 78.1 268.8C75.7 268.7 71.9 267.8 69.1 267.4C66.3 267.0 62.8 266.6 61.5 266.5Z" fill="#008000" fill-opacity="0.4" stroke="#000" stroke-opacity="0.55" stroke-width="1" stroke-linejoin="round"/>
<path d="M61.5 259.2C62.5 259.3 65.4 259.9 67.3 260.0C69.2 260.1 70.9 259.6 72.7 259.8C74.5 260.0 76.4 260.9 78.1 261.0C79.8 261.1 81.2 260.8 82.7 260.4C84.2 260.0 85.7 259.1 87.2 258.6C88.7 258.2 90.3 257.9 91.8 257.7C93.3 257.5 94.8 257.6 96.3 257.7C97.8 257.8 99.3 257.9 100.8 258.1C102.3 258.3 104.0 258.9 105.4 258.9C106.8 258.9 107.8 258.5 109.0 258.1C110.2 257.7 111.4 256.8 112.6 256.3C113.8 255.8 115.1 255.4 116.3 255.0C117.5 254.6 118.7 253.9 120.0 253.6C121.3 253.3 122.6 253.2 124.0 253.0C125.4 252.8 127.1 252.5 128.6 252.2C130.1 251.9 131.4 251.8 133.1 251.3C134.8 250.9 136.8 250.1 138.6 249.5C140.4 248.9 142.2 248.3 144.0 247.7C145.8 247.1 148.0 246.6 149.5 245.9C151.0 245.2 152.0 244.6 153.1 243.6C154.2 242.6 154.9 241.3 155.8 240.0C156.7 238.7 157.9 237.2 158.6 235.9C159.3 234.6 159.2 233.6 160.0 232.0C160.8 230.4 162.3 228.4 163.6 226.6C164.9 224.8 166.3 222.6 167.7 221.1C169.1 219.6 170.5 218.6 171.8 217.5C173.1 216.4 174.4 215.9 175.4 214.8C176.4 213.8 177.3 212.4 178.1 211.2C178.8 210.0 179.3 208.9 179.9 207.5C180.5 206.1 180.8 205.9 181.8 203.0C182.8 200.1 184.6 194.9 185.8 190.2C187.0 185.5 187.2 181.4 188.8 175.0C190.4 168.6 193.6 156.3 195.5 151.6C197.4 146.9 198.3 146.8 200.1 147.0C201.9 147.2 204.3 151.1 206.1 153.1C207.9 155.1 209.3 158.9 210.7 159.2C212.1 159.4 213.3 158.4 214.6 154.6C215.9 150.8 217.0 142.5 218.3 136.4C219.6 130.3 221.3 123.2 222.3 118.0C223.3 112.8 223.9 108.7 224.5 105.0C225.1 101.3 225.3 99.3 225.8 96.0C226.3 92.7 227.1 88.3 227.7 85.1C228.3 81.8 228.8 79.0 229.3 76.5C229.9 74.0 230.3 72.4 231.0 70.3C231.7 68.2 232.6 65.7 233.3 64.0C234.0 62.3 234.6 61.1 235.3 60.3C236.0 59.5 236.7 59.0 237.4 59.0C238.1 59.0 238.8 59.5 239.4 60.2C240.0 60.9 240.3 61.6 241.0 63.1C241.7 64.6 242.6 67.2 243.3 69.4C244.1 71.6 244.8 74.2 245.5 76.5C246.2 78.8 246.8 81.0 247.5 83.2C248.2 85.4 248.8 87.0 249.4 89.6C250.0 92.2 250.3 95.9 250.9 99.0C251.5 102.1 252.4 104.9 253.2 108.1C253.9 111.3 254.7 114.8 255.4 118.1C256.1 121.4 256.8 124.3 257.7 128.0C258.6 131.7 259.7 135.1 261.0 140.5C262.3 145.9 263.7 154.1 265.3 160.7C266.9 167.3 269.0 175.3 270.4 180.0C271.8 184.7 272.5 185.9 273.6 189.1C274.7 192.3 276.0 196.0 277.2 199.0C278.4 202.0 279.5 204.7 280.9 207.3C282.3 209.9 283.9 212.2 285.4 214.5C286.9 216.8 288.5 219.2 289.9 220.9C291.3 222.7 292.4 223.7 293.6 225.0C294.8 226.3 295.8 227.6 297.2 228.6C298.6 229.6 300.3 230.1 301.8 230.9C303.3 231.7 304.9 232.7 306.3 233.6C307.7 234.5 308.8 235.3 310.0 236.6C311.2 237.8 312.4 239.9 313.6 241.1C314.8 242.3 315.8 243.4 317.3 243.9C318.8 244.4 320.9 244.3 322.7 244.3C324.5 244.3 326.3 244.1 328.1 243.9C329.9 243.7 331.9 243.4 333.6 243.0C335.3 242.6 336.7 242.3 338.1 241.6C339.5 240.9 340.6 239.6 341.8 238.9C343.0 238.2 344.3 237.7 345.4 237.5C346.4 237.3 347.2 237.4 348.1 237.8C349.0 238.2 349.7 238.9 350.8 239.8C351.9 240.7 353.3 242.0 354.5 243.0C355.7 244.0 357.2 245.0 358.1 245.7C359.0 246.3 358.9 246.0 360.0 246.9C361.1 247.8 363.0 249.7 364.5 251.0C366.0 252.3 367.6 253.4 369.1 254.6C370.6 255.8 372.1 257.2 373.6 258.2C375.1 259.2 376.4 260.0 378.1 260.5C379.8 261.0 381.6 261.2 383.6 261.4C385.6 261.6 387.8 261.7 389.9 261.9C392.0 262.1 394.5 262.6 396.3 262.8C398.1 263.0 399.3 263.3 400.8 263.2C402.3 263.1 403.7 262.7 405.4 262.3C407.1 261.9 409.6 261.4 410.8 261.0C412.0 260.6 411.2 260.4 412.3 260.1C413.4 259.8 415.9 259.6 417.7 259.2C419.5 258.8 421.3 258.5 423.1 257.9C424.9 257.3 426.9 256.6 428.6 255.8C430.3 255.0 431.6 254.3 433.1 253.3C434.6 252.3 436.3 250.9 437.7 249.7C439.1 248.5 440.1 247.4 441.3 246.1C442.5 244.8 443.7 243.4 444.9 242.0C446.1 240.6 447.4 238.8 448.5 237.4C449.6 236.0 450.5 235.1 451.5 233.5C452.5 231.9 453.6 229.7 454.5 227.7C455.4 225.7 456.1 223.6 457.2 221.3C458.2 219.0 460.0 215.8 460.8 214.1C461.6 212.4 461.5 212.4 462.2 211.0C463.0 209.6 464.3 207.2 465.4 205.6C466.5 204.0 467.9 202.6 469.1 201.5C470.3 200.4 471.6 199.6 472.7 199.2C473.8 198.8 474.8 198.8 475.9 199.0C476.9 199.2 478.0 199.4 479.0 200.1C480.0 200.8 480.9 201.7 481.8 202.9C482.7 204.1 483.6 205.8 484.5 207.5C485.4 209.2 486.3 211.5 487.2 213.4C488.1 215.3 488.8 216.6 489.9 218.9C491.0 221.2 492.5 224.9 493.6 227.2C494.7 229.5 495.5 231.0 496.4 232.5C497.3 234.0 498.2 235.4 499.1 236.2C500.0 237.0 500.8 237.4 501.8 237.5C502.9 237.6 504.2 237.0 505.4 236.6C506.6 236.2 507.9 235.5 509.1 235.1C510.3 234.7 511.5 234.1 512.7 233.9C513.9 233.7 515.2 233.7 516.3 233.9C517.3 234.1 518.1 234.6 519.0 235.3C519.9 236.0 520.9 236.9 521.8 238.0C522.7 239.1 523.6 240.7 524.5 242.1C525.4 243.5 526.3 245.2 527.2 246.6C528.1 248.0 529.0 249.4 529.9 250.7C530.8 252.0 531.9 253.2 532.7 254.3C533.5 255.4 533.5 255.9 534.9 257.0C536.3 258.1 538.7 260.1 541.2 261.0C543.7 261.9 546.9 262.2 549.7 262.7C552.5 263.2 555.3 263.6 558.1 264.2C560.9 264.8 563.1 265.6 566.6 266.3C570.1 267.0 575.4 268.3 579.3 268.4C583.2 268.5 585.7 267.0 589.9 267.1C594.1 267.2 600.1 268.5 604.7 268.8C609.3 269.1 613.2 268.7 617.5 268.8C621.8 268.9 626.0 269.6 630.2 269.6C634.4 269.6 639.9 268.7 642.9 268.8C645.9 268.9 646.4 269.6 648.0 270.0C649.6 270.4 651.8 271.2 652.6 271.4" fill="none" stroke="#0000ff" stroke-width="2.2" stroke-linejoin="round" stroke-linecap="butt"/>
<path d="M61.5 251.8C62.5 251.9 65.6 251.9 67.3 252.3C69.0 252.7 70.4 253.7 71.8 254.1C73.2 254.5 74.0 254.7 75.4 254.5C76.8 254.3 78.3 253.4 80.0 252.7C81.7 252.0 83.6 250.9 85.4 250.4C87.2 249.9 89.1 249.6 90.9 249.5C92.7 249.4 94.5 249.6 96.3 249.8C98.1 250.0 99.9 250.5 101.7 250.9C103.5 251.3 105.4 252.0 107.2 252.3C109.0 252.6 110.9 252.7 112.6 252.7C114.3 252.7 116.0 252.7 117.2 252.5C118.4 252.3 118.5 252.1 120.0 251.8C121.5 251.5 124.0 251.4 125.9 250.9C127.8 250.4 129.6 249.9 131.3 249.1C133.0 248.3 134.4 247.3 135.9 246.3C137.4 245.3 138.9 244.0 140.4 243.2C141.9 242.4 143.4 241.7 144.9 241.3C146.4 240.9 148.0 240.8 149.5 240.7C151.0 240.6 152.5 240.7 154.0 240.5C155.5 240.3 157.3 240.2 158.6 239.8C159.9 239.4 161.0 238.7 162.0 237.8C163.0 236.9 163.7 235.8 164.5 234.5C165.3 233.2 166.1 231.5 166.8 229.8C167.5 228.1 168.0 226.2 168.5 224.5C169.0 222.8 169.3 221.4 169.8 219.5C170.3 217.6 170.8 215.2 171.3 213.0C171.9 210.8 172.6 208.3 173.1 206.6C173.6 204.9 174.0 204.2 174.5 203.0C175.0 201.8 175.2 202.2 176.3 199.5C177.4 196.8 179.7 190.2 181.3 186.5C182.9 182.8 184.7 180.1 185.9 177.3C187.2 174.6 188.1 172.2 188.8 170.0C189.6 167.8 189.6 166.5 190.4 164.0C191.2 161.5 192.5 158.0 193.6 155.0C194.7 152.0 195.6 149.5 196.8 146.0C198.0 142.5 199.8 137.5 200.9 134.0C202.0 130.5 202.7 127.6 203.6 125.0C204.5 122.4 205.4 120.3 206.3 118.6C207.2 116.9 208.2 115.8 209.1 115.0C209.9 114.2 210.5 114.1 211.3 114.1C212.1 114.1 213.2 114.5 214.0 114.8C214.8 115.1 215.5 116.0 216.3 115.9C217.1 115.8 218.1 114.8 219.0 114.1C219.9 113.4 220.8 112.4 221.8 111.8C222.8 111.2 223.9 110.6 224.9 110.6C225.9 110.6 226.9 111.1 227.7 111.8C228.5 112.5 229.2 113.8 229.9 115.0C230.6 116.2 231.1 117.8 231.7 119.1C232.3 120.4 233.0 121.5 233.6 123.1C234.2 124.7 234.8 126.8 235.4 128.6C236.0 130.4 236.5 132.1 237.2 134.0C237.8 135.9 238.3 135.1 239.3 140.0C240.3 144.9 242.1 157.0 243.3 163.7C244.6 170.4 245.8 176.1 246.8 180.0C247.8 183.9 248.3 184.6 249.1 187.3C249.9 190.0 251.1 194.3 251.8 196.3C252.6 198.3 253.2 198.7 253.6 199.3C254.0 199.9 253.3 198.8 254.5 200.0C255.7 201.2 258.9 204.1 260.9 206.4C262.9 208.7 264.6 211.2 266.3 213.6C268.0 216.0 269.7 219.0 270.9 220.9C272.1 222.8 272.5 223.1 273.6 225.0C274.7 226.9 275.9 230.0 277.3 232.3C278.7 234.6 280.2 236.6 281.8 238.6C283.4 240.6 285.4 242.6 287.2 244.1C289.0 245.6 290.9 246.8 292.7 247.7C294.5 248.6 296.3 249.2 298.1 249.5C299.9 249.8 301.8 249.9 303.6 249.7C305.4 249.5 307.5 248.7 309.0 248.1C310.5 247.5 311.3 246.7 312.7 245.9C314.1 245.2 315.8 244.6 317.3 243.6C318.8 242.6 320.5 241.4 321.8 239.8C323.1 238.2 324.4 236.1 325.4 234.3C326.4 232.5 327.0 230.7 327.7 228.9C328.4 227.1 328.9 225.2 329.5 223.4C330.1 221.6 330.7 219.9 331.3 218.0C331.9 216.1 332.5 214.1 333.1 212.1C333.7 210.1 334.2 207.9 334.9 205.8C335.6 203.7 336.4 201.4 337.2 199.4C338.0 197.4 339.3 195.2 339.9 194.0C340.5 192.8 340.3 192.9 340.8 192.2C341.3 191.4 342.4 190.2 343.1 189.5C343.8 188.8 344.3 188.1 344.9 187.7C345.5 187.3 346.1 187.1 346.7 187.1C347.3 187.1 348.1 187.5 348.7 187.8C349.2 188.1 349.2 188.0 350.0 188.7C350.8 189.4 352.4 190.5 353.6 191.8C354.8 193.1 355.9 194.9 357.3 196.3C358.7 197.7 360.3 198.9 361.8 200.0C363.3 201.1 364.8 201.9 366.3 203.1C367.8 204.3 369.8 206.0 370.9 207.2C372.0 208.3 371.6 208.6 372.7 210.0C373.8 211.4 375.7 213.3 377.2 215.4C378.7 217.5 380.3 220.7 381.8 222.7C383.3 224.7 384.8 226.1 386.3 227.2C387.8 228.3 389.4 228.4 390.9 229.1C392.4 229.8 394.0 230.4 395.4 231.3C396.8 232.2 398.0 233.6 399.0 234.5C400.0 235.4 400.3 235.4 401.3 236.5C402.3 237.6 403.8 239.6 405.0 241.1C406.2 242.6 407.4 244.1 408.6 245.6C409.8 247.1 411.1 248.7 412.3 250.1C413.5 251.5 414.7 252.8 415.9 253.8C417.1 254.8 418.3 255.4 419.5 256.0C420.7 256.6 421.7 257.1 423.1 257.4C424.5 257.7 426.2 258.0 427.7 257.9C429.2 257.8 430.5 257.1 432.2 256.5C433.9 255.9 435.6 255.0 437.7 254.2C439.8 253.4 443.0 252.5 445.0 251.8C447.0 251.1 448.0 250.7 449.5 250.1C451.0 249.5 452.6 248.9 454.1 248.3C455.6 247.7 457.1 247.1 458.6 246.5C460.1 245.9 461.7 245.4 463.1 244.7C464.5 244.0 465.7 243.2 466.8 242.4C467.9 241.7 468.6 241.2 469.5 240.2C470.4 239.2 471.3 237.9 472.2 236.5C473.1 235.1 474.1 233.7 474.9 232.0C475.7 230.3 476.3 227.8 477.2 226.1C478.1 224.4 479.1 222.8 480.0 221.6C480.9 220.4 481.6 219.7 482.7 218.9C483.8 218.2 484.9 217.5 486.3 217.1C487.7 216.7 489.4 216.6 490.9 216.6C492.4 216.6 493.9 216.8 495.4 216.9C496.9 217.0 498.4 216.9 499.9 216.9C501.4 216.9 503.1 216.8 504.5 217.1C505.9 217.4 506.9 218.0 508.1 218.9C509.3 219.8 510.2 221.0 511.7 222.5C513.1 224.0 515.4 226.5 516.8 228.0C518.2 229.5 518.9 230.2 520.0 231.6C521.1 233.0 522.4 234.8 523.6 236.2C524.8 237.6 526.0 238.6 527.2 239.8C528.4 241.0 529.6 242.3 530.8 243.4C532.0 244.5 533.4 245.5 534.5 246.6C535.6 247.7 536.6 248.7 537.7 250.0C538.8 251.3 540.1 253.0 541.3 254.5C542.5 256.0 543.8 257.7 545.0 259.1C546.2 260.5 547.4 261.7 548.6 262.7C549.8 263.7 551.0 264.4 552.2 265.0C553.4 265.6 554.7 266.0 555.9 266.3C557.1 266.6 558.3 266.8 559.5 266.6C560.7 266.5 561.9 265.9 563.1 265.4C564.3 264.9 565.5 264.0 566.7 263.6C567.9 263.2 569.2 263.0 570.4 262.9C571.6 262.8 572.8 263.0 574.0 263.2C575.2 263.4 576.4 263.7 577.6 264.1C578.8 264.5 580.1 265.0 581.3 265.4C582.5 265.8 583.9 266.1 585.0 266.3C586.1 266.5 585.2 266.5 587.8 266.7C590.4 266.9 596.3 267.3 600.5 267.4C604.7 267.5 609.0 267.6 613.2 267.4C617.4 267.1 621.7 265.9 625.9 265.9C630.1 265.9 634.2 266.8 638.6 267.4C643.0 268.0 650.1 269.1 652.4 269.5" fill="none" stroke="#ff0000" stroke-width="2.2" stroke-linejoin="round" stroke-linecap="butt"/>
<path d="M61.5 264.3C62.5 264.4 65.4 264.6 67.3 264.7C69.2 264.8 70.9 264.9 72.7 265.2C74.5 265.5 76.4 266.2 78.1 266.3C79.8 266.4 81.3 266.4 82.7 265.9C84.1 265.4 85.1 263.9 86.3 263.1C87.5 262.3 88.7 261.4 89.9 261.0C91.1 260.6 92.2 260.6 93.6 260.7C95.0 260.8 96.6 261.4 98.1 261.6C99.6 261.9 101.2 262.4 102.6 262.2C104.0 262.0 105.1 261.1 106.3 260.4C107.5 259.6 108.7 258.4 109.9 257.7C111.1 256.9 112.3 256.4 113.5 255.9C114.7 255.4 116.1 254.9 117.2 254.5C118.3 254.1 118.8 253.7 120.0 253.5C121.2 253.3 122.7 253.1 124.1 253.1C125.5 253.1 127.1 253.4 128.6 253.6C130.1 253.8 131.6 254.1 133.1 254.3C134.6 254.5 136.2 254.9 137.7 255.0C139.2 255.1 140.8 255.2 142.2 255.0C143.6 254.8 144.7 254.3 145.9 253.6C147.1 252.9 148.3 251.8 149.5 250.9C150.7 250.0 151.9 249.0 153.1 248.1C154.3 247.2 155.5 246.4 156.7 245.4C157.9 244.4 159.2 243.1 160.4 241.8C161.6 240.5 162.7 239.5 164.0 237.7C165.3 235.9 166.7 232.8 168.1 231.1C169.5 229.4 171.2 228.4 172.7 227.5C174.2 226.6 175.7 226.2 177.2 225.7C178.7 225.2 180.4 224.8 181.8 224.3C183.2 223.8 184.2 223.5 185.4 222.5C186.6 221.5 187.8 219.8 189.0 218.4C190.2 217.0 191.4 215.2 192.6 213.9C193.8 212.6 195.1 211.7 196.3 210.7C197.5 209.7 198.7 209.1 199.9 208.0C201.1 206.9 202.6 205.2 203.5 204.4C204.4 203.6 204.3 204.4 205.4 203.0C206.5 201.6 208.7 198.3 210.1 196.2C211.5 194.1 212.6 192.0 213.9 190.2C215.2 188.4 216.3 186.7 217.7 185.6C219.1 184.5 220.4 184.0 222.2 183.6C224.0 183.2 226.3 183.2 228.3 183.3C230.3 183.4 232.6 184.3 234.4 184.4C236.2 184.5 237.5 184.4 238.9 183.8C240.3 183.2 241.5 182.0 242.7 181.0C243.8 180.0 244.7 179.0 245.8 178.0C246.9 177.0 248.4 175.4 249.5 175.2C250.6 175.0 251.7 176.3 252.6 177.0C253.5 177.7 254.4 178.7 255.0 179.2C255.6 179.7 256.0 180.4 256.4 180.0C256.8 179.6 257.0 178.1 257.3 176.5C257.6 174.9 257.8 173.1 258.2 170.6C258.6 168.1 259.5 163.8 260.0 161.5C260.5 159.2 260.8 159.4 261.3 157.0C261.8 154.6 262.2 151.8 263.0 147.0C263.8 142.2 265.4 132.2 266.1 128.0C266.8 123.8 266.8 123.8 267.2 121.7C267.6 119.6 268.1 117.3 268.6 115.3C269.1 113.3 269.9 111.1 270.4 109.9C270.9 108.7 271.2 108.4 271.7 108.0C272.1 107.6 272.6 107.3 273.1 107.3C273.6 107.3 274.0 107.6 274.5 108.0C275.0 108.4 275.2 108.7 275.9 109.9C276.5 111.1 277.3 113.3 278.1 115.3C278.9 117.3 279.6 119.6 280.4 121.7C281.2 123.8 281.2 124.8 282.7 128.0C284.2 131.2 287.7 137.3 289.6 141.0C291.5 144.7 292.6 150.0 294.1 150.0C295.6 150.0 297.2 143.3 298.7 141.0C300.2 138.7 301.8 136.2 303.3 136.4C304.8 136.7 306.2 138.9 307.6 142.5C309.0 146.1 310.8 153.9 311.6 157.7C312.5 161.4 312.1 161.5 312.7 165.0C313.3 168.5 314.4 173.8 315.4 178.6C316.3 183.4 317.4 189.2 318.4 194.0C319.4 198.8 320.4 203.6 321.3 207.6C322.2 211.6 322.9 214.8 323.6 218.0C324.3 221.2 324.7 224.4 325.4 227.1C326.1 229.8 326.9 232.7 327.7 234.3C328.5 235.9 329.0 236.8 330.0 236.6C331.0 236.4 332.4 234.8 333.6 233.4C334.8 232.0 336.0 229.4 337.2 228.0C338.4 226.6 339.7 225.5 340.9 224.8C342.1 224.1 343.3 223.9 344.5 223.9C345.7 223.9 346.9 224.1 348.1 224.8C349.3 225.6 350.5 227.1 351.7 228.4C352.9 229.7 354.2 231.4 355.4 232.5C356.6 233.6 357.6 234.3 359.0 234.8C360.4 235.3 362.1 235.3 363.5 235.7C364.9 236.1 366.1 236.4 367.3 237.4C368.5 238.4 369.7 239.8 370.9 241.4C372.1 243.0 373.3 245.1 374.5 246.9C375.7 248.7 376.9 250.7 378.1 252.3C379.3 253.9 380.6 255.5 381.8 256.4C383.0 257.3 384.2 257.8 385.4 257.8C386.6 257.8 387.6 257.3 389.0 256.4C390.4 255.5 392.3 253.9 393.7 252.3C395.1 250.7 396.1 248.7 397.3 246.9C398.5 245.1 399.8 243.1 400.9 241.4C402.0 239.7 403.2 238.3 404.1 236.9C405.0 235.5 405.4 234.3 406.0 233.2C406.6 232.1 407.0 231.0 407.7 230.3C408.4 229.7 409.3 229.2 410.4 229.3C411.5 229.4 412.9 230.4 414.1 231.1C415.3 231.8 416.6 233.1 417.7 233.7C418.8 234.3 419.3 234.7 420.4 234.6C421.5 234.5 422.7 233.9 424.1 233.2C425.5 232.5 427.1 231.7 428.6 230.4C430.1 229.1 431.7 227.0 433.1 225.6C434.5 224.2 435.6 222.9 436.8 222.0C438.0 221.1 439.3 220.4 440.4 220.1C441.4 219.8 442.2 219.8 443.1 220.1C444.0 220.4 444.9 221.0 445.8 221.9C446.7 222.8 447.5 224.0 448.4 225.5C449.3 227.0 450.5 229.6 451.1 230.8C451.8 232.1 451.7 232.0 452.3 233.0C452.9 234.0 453.9 235.5 455.0 236.8C456.1 238.1 457.2 239.7 458.6 240.6C460.0 241.5 461.6 241.9 463.1 242.4C464.6 242.9 466.2 242.8 467.7 243.3C469.2 243.8 470.8 245.1 472.2 245.6C473.6 246.1 474.7 246.6 475.9 246.5C477.1 246.4 478.1 245.6 479.5 245.2C480.9 244.8 482.5 244.5 484.0 244.3C485.5 244.1 487.1 244.0 488.6 244.1C490.1 244.2 491.6 244.3 493.1 244.7C494.6 245.1 496.1 245.9 497.6 246.5C499.1 247.1 501.0 247.9 502.2 248.3C503.4 248.8 504.0 248.9 505.0 249.2C506.0 249.5 506.8 249.9 508.1 250.2C509.4 250.5 511.2 250.7 512.7 251.1C514.2 251.5 515.7 252.0 517.2 252.5C518.7 253.0 520.5 253.6 521.8 254.3C523.1 255.0 523.7 256.1 525.0 256.8C526.3 257.5 528.0 258.2 529.5 258.6C531.0 259.0 532.6 259.1 534.1 259.1C535.6 259.1 537.1 258.5 538.6 258.6C540.1 258.7 541.6 259.2 543.1 259.5C544.6 259.8 546.2 260.1 547.7 260.4C549.2 260.7 550.7 261.0 552.2 261.3C553.7 261.6 555.3 261.8 556.8 262.3C558.3 262.8 559.9 263.5 561.3 264.1C562.6 264.7 563.7 265.3 564.9 265.9C566.1 266.5 567.4 267.2 568.6 267.7C569.8 268.2 571.0 268.8 572.2 269.1C573.4 269.5 574.4 269.6 575.8 269.8C577.2 270.0 578.9 270.1 580.4 270.1C581.9 270.2 583.8 270.0 585.0 270.1C586.2 270.2 585.2 270.5 587.8 270.6C590.4 270.7 596.3 270.6 600.5 270.5C604.7 270.4 609.0 270.3 613.2 270.3C617.4 270.3 621.7 270.5 625.9 270.5C630.1 270.5 634.2 270.4 638.6 270.5C643.0 270.6 650.1 270.9 652.4 271.0" fill="none" stroke="#008000" stroke-width="2.2" stroke-linejoin="round" stroke-linecap="butt"/>
</g>
<path d="M135.57 279.0v-8.1M135.57 7.45v8.3M209.49 279.0v-8.1M209.49 7.45v8.3M283.41 279.0v-8.1M283.41 7.45v8.3M357.32 279.0v-8.1M357.32 7.45v8.3M431.24 279.0v-8.1M431.24 7.45v8.3M505.16 279.0v-8.1M505.16 7.45v8.3M579.08 279.0v-8.1M61.65 224.69h8.1M653.0 224.69h-8.1M61.65 170.38h8.1M653.0 170.38h-8.1M61.65 116.07h8.1M61.65 61.76h8.1" stroke="#000" stroke-width="0.9" fill="none"/>
<rect x="61.65" y="7.45" width="591.35" height="271.55" fill="none" stroke="#000" stroke-width="1.1"/>
<g font-family="'Liberation Sans', Arial, Helvetica, sans-serif" font-size="15.3" fill="#000">
<text transform="translate(47.2 298.7) scale(1.36 1)">−</text>
<text transform="translate(59.7 297.8) scale(1 0.98)">20</text>
<text transform="translate(121.1 298.7) scale(1.36 1)">−</text>
<text transform="translate(133.6 297.8) scale(1 0.98)">15</text>
<text transform="translate(195.0 298.7) scale(1.36 1)">−</text>
<text transform="translate(207.5 297.8) scale(1 0.98)">10</text>
<text transform="translate(273.2 298.7) scale(1.36 1)">−</text>
<text transform="translate(285.7 297.8) scale(1 0.98)">5</text>
<text transform="translate(357.8 297.8) scale(1 0.98)" text-anchor="middle">0</text>
<text transform="translate(431.7 297.8) scale(1 0.98)" text-anchor="middle">5</text>
<text transform="translate(505.7 297.8) scale(1 0.98)" text-anchor="middle">10</text>
<text transform="translate(579.6 297.8) scale(1 0.98)" text-anchor="middle">15</text>
<text transform="translate(653.5 297.8) scale(1 0.98)" text-anchor="middle">20</text>
<text transform="translate(55.4 284.0) scale(1 0.98)" text-anchor="end">0.00</text>
<text transform="translate(55.4 229.7) scale(1 0.98)" text-anchor="end">0.05</text>
<text transform="translate(55.4 175.4) scale(1 0.98)" text-anchor="end">0.10</text>
<text transform="translate(55.4 121.1) scale(1 0.98)" text-anchor="end">0.15</text>
<text transform="translate(55.4 66.8) scale(1 0.98)" text-anchor="end">0.20</text>
<text transform="translate(55.4 12.4) scale(1 0.98)" text-anchor="end">0.25</text>
<text transform="translate(352.0 319.9) scale(1 0.98)" text-anchor="middle">Frequency [kHz]</text>
<text transform="translate(13.3 148.6) rotate(-90) scale(1 0.98)" text-anchor="middle">Amplitude</text>
<rect x="546.5" y="15.5" width="98.9" height="68.9" fill="#fff" stroke="#000" stroke-width="1"/>
<path d="M556.2 27.4h23" stroke="#0000ff" stroke-width="2" fill="none"/>
<text transform="translate(595.4 32.8) scale(1 0.98)">No FB</text>
<path d="M556.2 49.7h23" stroke="#ff0000" stroke-width="2" fill="none"/>
<text transform="translate(595.4 55.1) scale(1 0.98)">-10°</text>
<path d="M556.2 72.0h23" stroke="#008000" stroke-width="2" fill="none"/>
<text transform="translate(595.4 77.4) scale(1 0.98)">-190°</text>
</g>
<g font-family="'Liberation Sans', Arial, Helvetica, sans-serif" font-size="16.7" fill="#000">
<text transform="translate(645.0 108.2) scale(1 1)" text-anchor="end">Strong</text>
<text transform="translate(643.1 129.0) scale(1 1)" text-anchor="end">Coupling</text>
</g>
</svg>
</body></html>
